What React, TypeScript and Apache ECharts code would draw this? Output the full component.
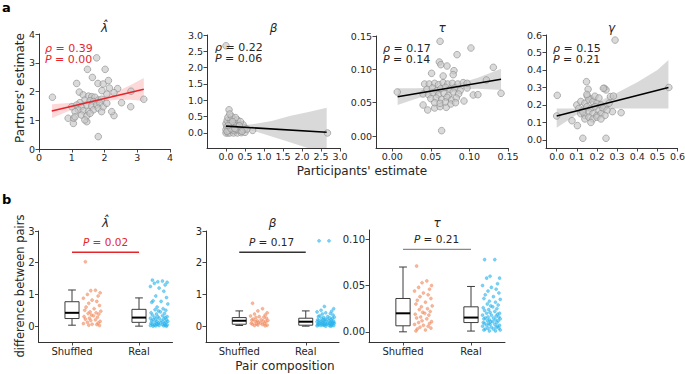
import React, { useEffect, useRef } from 'react';
import * as echarts from 'echarts';

const FONT = 'DejaVu Sans';

// ---------- Panel a data ----------
const aLambdaPts: number[][] = [
  [0.41, 1.8], [1.76, 3.17], [1.48, 2.77], [2.02, 2.77], [1.63, 2.49], [1.15, 2.28], [1.8, 2.28], [1.96, 2.26],
  [2.12, 2.38], [2.15, 2.12], [2.4, 2.1], [2.81, 2.01], [3.2, 1.73], [2.8, 1.47], [2.52, 1.61], [2.29, 1.96],
  [2.07, 1.91], [1.92, 2.03], [2.29, 1.16], [1.23, 1.98], [1.81, 0.43], [1.05, 0.89], [0.89, 1.07], [1.06, 1.07],
  [1.46, 0.95], [1.35, 1.88], [1.51, 1.84], [1.61, 1.82], [1.71, 1.8], [1.4, 1.7], [1.56, 1.68], [1.66, 1.65],
  [1.81, 1.7], [1.91, 1.73], [1.25, 1.61], [1.15, 1.53], [1.3, 1.47], [1.46, 1.53], [1.61, 1.5], [1.76, 1.53],
  [1.86, 1.59], [1.2, 1.36], [1.35, 1.33], [1.51, 1.3], [1.66, 1.36], [1.81, 1.42], [1.91, 1.3], [1.1, 1.3],
  [1.3, 1.18], [1.46, 1.15], [1.56, 1.24], [1.96, 1.47], [2.07, 1.59], [1.0, 1.47], [2.22, 1.3], [1.4, 1.01],
  [1.1, 1.12],
];
const aLambdaLine: number[][] = [[0.39, 1.32], [3.2, 2.08]];
const aLambdaBandX = [0.4, 0.8, 1.2, 1.6, 2.0, 2.4, 2.8, 3.2];
const aLambdaBandHi = [1.56, 1.59, 1.62, 1.71, 1.84, 2.01, 2.23, 2.47];
const aLambdaBandLo = [1.08, 1.27, 1.44, 1.57, 1.66, 1.71, 1.71, 1.67];

const aBetaPts: number[][] = [
  [0.0, 0.0], [0.05, 0.0], [0.1, 0.0], [0.2, 0.0], [0.3, 0.0], [0.4, 0.01], [0.5, 0.02],
  [0.0, 0.1], [0.08, 0.08], [0.15, 0.1], [0.22, 0.07], [0.3, 0.1], [0.38, 0.08], [0.46, 0.1],
  [0.02, 0.2], [0.1, 0.18], [0.18, 0.22], [0.25, 0.2], [0.33, 0.17], [0.42, 0.2], [0.5, 0.15],
  [0.0, 0.28], [0.07, 0.3], [0.14, 0.27], [0.2, 0.32], [0.28, 0.3], [0.36, 0.27], [0.45, 0.25],
  [0.03, 0.38], [0.12, 0.4], [0.2, 0.42], [0.3, 0.4], [0.38, 0.35],
  [0.05, 0.48], [0.15, 0.5], [0.25, 0.47], [0.08, 0.71], [0.7, 0.08], [0.55, 0.12], [0.1, 0.58],
  [0.03, 0.05], [0.13, 0.13], [0.26, 0.12], [0.35, 0.22], [0.06, 0.23], [0.17, 0.35], [0.23, 0.14], [0.42, 0.05],
  [0.0, 2.67], [2.67, 0.0],
];
const aBetaLine: number[][] = [[0.0, 0.21], [2.65, 0.02]];
const aBetaBandX = [0.0, 0.3, 0.7, 1.2, 1.7, 2.2, 2.65];
const aBetaBandHi = [0.25, 0.22, 0.27, 0.37, 0.53, 0.65, 0.77];
const aBetaBandLo = [0.16, 0.15, 0.07, -0.11, -0.29, -0.48, -0.64];

const aTauPts: number[][] = [
  [0.0065, 0.066], [0.062, 0.142], [0.102, 0.132], [0.084, 0.122], [0.061, 0.111], [0.063, 0.107], [0.071, 0.105],
  [0.051, 0.094], [0.066, 0.09], [0.08, 0.098], [0.079, 0.092], [0.131, 0.103], [0.141, 0.064], [0.097, 0.072],
  [0.105, 0.0615], [0.093, 0.0525], [0.111, 0.062], [0.064, 0.008], [0.04, 0.0465], [0.046, 0.039], [0.055, 0.042],
  [0.062, 0.044], [0.07, 0.043], [0.122, 0.084],
  [0.042, 0.078], [0.048, 0.078], [0.055, 0.079], [0.06, 0.077], [0.066, 0.08], [0.072, 0.078], [0.078, 0.079],
  [0.085, 0.078], [0.092, 0.08], [0.097, 0.079], [0.045, 0.07], [0.052, 0.072], [0.058, 0.068], [0.063, 0.071],
  [0.069, 0.073], [0.075, 0.07], [0.081, 0.072], [0.088, 0.068], [0.04, 0.063], [0.047, 0.062], [0.053, 0.065],
  [0.06, 0.062], [0.067, 0.064], [0.073, 0.061], [0.079, 0.066], [0.086, 0.063], [0.05, 0.056], [0.057, 0.057],
  [0.064, 0.055], [0.071, 0.058], [0.077, 0.054], [0.083, 0.057], [0.055, 0.05], [0.062, 0.049], [0.069, 0.051],
  [0.076, 0.048], [0.082, 0.05],
];
const aTauLine: number[][] = [[0.007, 0.059], [0.141, 0.085]];
const aTauBandX = [0.007, 0.03, 0.05, 0.07, 0.09, 0.11, 0.141];
const aTauBandHi = [0.0715, 0.0715, 0.0723, 0.0752, 0.0801, 0.087, 0.101];
const aTauBandLo = [0.0465, 0.0555, 0.0623, 0.0672, 0.0701, 0.071, 0.069];

const aGammaPts: number[][] = [
  [0.29, 0.571], [0.003, 0.255], [0.0, 0.137], [0.557, 0.3], [0.148, 0.333], [0.237, 0.295], [0.245, 0.286],
  [0.267, 0.248], [0.282, 0.251], [0.152, 0.25], [0.171, 0.234], [0.277, 0.162], [0.32, 0.156], [0.076, 0.11],
  [0.103, 0.082], [0.13, 0.0095], [0.245, 0.0095], [0.156, 0.29], [0.232, 0.295],
  [0.1, 0.2], [0.12, 0.22], [0.14, 0.21], [0.16, 0.23], [0.18, 0.22], [0.2, 0.21], [0.22, 0.2], [0.24, 0.19],
  [0.11, 0.18], [0.13, 0.17], [0.15, 0.19], [0.17, 0.18], [0.19, 0.19], [0.21, 0.17], [0.23, 0.18], [0.25, 0.17],
  [0.12, 0.15], [0.14, 0.14], [0.16, 0.16], [0.18, 0.15], [0.2, 0.14], [0.22, 0.15], [0.24, 0.14],
  [0.14, 0.12], [0.16, 0.13], [0.18, 0.12], [0.2, 0.13], [0.22, 0.12], [0.17, 0.1], [0.13, 0.16], [0.26, 0.21],
  [0.19, 0.25], [0.15, 0.26], [0.21, 0.24],
];
const aGammaLine: number[][] = [[0.0, 0.137], [0.555, 0.3]];
const aGammaBandX = [0.0, 0.1, 0.2, 0.3, 0.4, 0.5, 0.555];
const aGammaBandHi = [0.18, 0.18, 0.215, 0.27, 0.33, 0.4, 0.457];
const aGammaBandLo = [0.07, 0.145, 0.175, 0.18, 0.18, 0.18, 0.18];

// ---------- Panel b data ----------
const bCategories = ['Shuffled', 'Real'];
// box stats: [min, Q1, median, Q3, max]
const bLambdaBox = [[0.03, 0.24, 0.42, 0.77, 1.14], [0.0, 0.12, 0.27, 0.53, 0.89]];
const bBetaBox = [[0.02, 0.06, 0.17, 0.27, 0.48], [0.0, 0.03, 0.14, 0.25, 0.48]];
const bTauBox = [[0.0, 0.0065, 0.02, 0.036, 0.07], [0.0008, 0.01, 0.0154, 0.027, 0.049]];

const bLambdaShuffled = [2.03, 1.13, 1.12, 1.05, 1.0, 0.95, 0.88, 0.82, 0.78, 0.72, 0.65, 0.6, 0.55, 0.5, 0.47, 0.45,
  0.42, 0.4, 0.38, 0.35, 0.33, 0.3, 0.28, 0.25, 0.22, 0.2, 0.18, 0.15, 0.12, 0.1, 0.08, 0.06, 0.05, 0.03, 0.02];
const bLambdaReal = [1.45, 1.42, 1.4, 1.38, 1.35, 1.3, 1.25, 1.2, 1.1, 0.95, 0.9, 0.8, 0.78, 0.75, 0.7, 0.6, 0.55,
  0.52, 0.5, 0.48, 0.45, 0.42, 0.4, 0.38, 0.35, 0.33, 0.3, 0.3, 0.28, 0.27, 0.25, 0.25, 0.23, 0.22, 0.2, 0.2, 0.18,
  0.17, 0.15, 0.15, 0.14, 0.12, 0.12, 0.1, 0.1, 0.09, 0.08, 0.07, 0.06, 0.05, 0.05, 0.04, 0.03, 0.03, 0.02, 0.02,
  0.01, 0.01, 0.0, 0.0];
const bBetaShuffled = [0.72, 0.55, 0.48, 0.42, 0.38, 0.35, 0.32, 0.3, 0.28, 0.27, 0.25, 0.22, 0.2, 0.19, 0.18, 0.17,
  0.16, 0.15, 0.14, 0.12, 0.1, 0.09, 0.08, 0.07, 0.06, 0.05, 0.04, 0.03, 0.02, 0.01];
const bBetaReal = [2.69, 2.69, 0.62, 0.55, 0.5, 0.47, 0.45, 0.42, 0.4, 0.38, 0.35, 0.33, 0.3, 0.3, 0.28, 0.27, 0.26,
  0.25, 0.24, 0.22, 0.21, 0.2, 0.2, 0.19, 0.18, 0.17, 0.16, 0.15, 0.15, 0.14, 0.14, 0.13, 0.12, 0.12, 0.11, 0.1, 0.1,
  0.09, 0.09, 0.08, 0.08, 0.07, 0.07, 0.06, 0.06, 0.05, 0.05, 0.04, 0.04, 0.03, 0.03, 0.02, 0.02, 0.01, 0.01, 0.0, 0.0];
const bTauShuffled = [0.071, 0.055, 0.053, 0.05, 0.048, 0.046, 0.044, 0.042, 0.04, 0.038, 0.036, 0.034, 0.032, 0.03,
  0.028, 0.027, 0.025, 0.024, 0.022, 0.021, 0.02, 0.019, 0.018, 0.016, 0.015, 0.014, 0.012, 0.011, 0.01, 0.009,
  0.008, 0.007, 0.006, 0.005, 0.004, 0.003, 0.002, 0.001];
const bTauReal = [0.078, 0.078, 0.06, 0.058, 0.058, 0.052, 0.05, 0.048, 0.046, 0.044, 0.042, 0.04, 0.038, 0.036,
  0.035, 0.033, 0.032, 0.03, 0.029, 0.028, 0.027, 0.026, 0.025, 0.024, 0.023, 0.022, 0.021, 0.02, 0.02, 0.019,
  0.018, 0.018, 0.017, 0.016, 0.016, 0.015, 0.015, 0.014, 0.014, 0.013, 0.013, 0.012, 0.012, 0.011, 0.011, 0.01,
  0.01, 0.009, 0.009, 0.008, 0.008, 0.007, 0.007, 0.006, 0.006, 0.005, 0.005, 0.004, 0.004, 0.003, 0.003, 0.002,
  0.002, 0.001, 0.001];
const bBracketY = [2.33, 2.33, 0.089];
const bPValues = ['0.02', '0.17', '0.21'];
const jitterOffsets = [-0.1, 0.05, -0.02, 0.12, -0.07, 0.09, -0.13, 0.0, 0.07, -0.05, 0.11, -0.09, 0.03, -0.11,
  0.13, -0.03, 0.06, -0.06, 0.1, -0.01, 0.02, -0.12, 0.08, -0.04];

// ---------- ticks ----------
const tLam = [0, 1, 2, 3, 4];
const tBeta = [0, 0.5, 1, 1.5, 2, 2.5, 3];
const tTau = [0, 0.05, 0.1, 0.15];
const tGam = [0, 0.1, 0.2, 0.3, 0.4, 0.5, 0.6];
const tBLam = [0, 1, 2, 3];
const tBTau = [0, 0.05, 0.1];
const tCat = [0, 1];

const RED = '#e4262c';
const ORANGE = '#f08a5e';
const BLUE = '#2bb4ec';
const AX = '#333333';
const TXT = '#262626';

function axis(gi: number, min: number, max: number, ticks: number[], fmt: (v: number) => string, isX: boolean) {
  return {
    type: 'value', gridIndex: gi, min, max, scale: true,
    axisLine: { show: true, onZero: false, lineStyle: { color: AX, width: 1 } },
    axisTick: { show: true, length: 3.5, inside: false, customValues: ticks, lineStyle: { color: AX, width: 0.9 } },
    axisLabel: { show: true, customValues: ticks, formatter: fmt, color: TXT, fontSize: 9.5, fontFamily: FONT, margin: isX ? 3 : 4 },
    splitLine: { show: false },
  };
}

function scatterA(i: number, pts: number[][]) {
  return {
    type: 'scatter', xAxisIndex: i, yAxisIndex: i, data: pts, symbolSize: 6.6, z: 3, silent: true,
    itemStyle: { color: 'rgba(200,200,200,0.85)', borderColor: '#8c8c8c', borderWidth: 0.8 },
  };
}

function lineA(i: number, pts: number[][], color: string) {
  return {
    type: 'line', xAxisIndex: i, yAxisIndex: i, data: pts, symbol: 'none', z: 4, silent: true,
    lineStyle: { color, width: 1.6 },
  };
}

function bandA(i: number, bx: number[], hi: number[], lo: number[], fill: string) {
  return {
    type: 'custom', xAxisIndex: i, yAxisIndex: i, clip: true, silent: true, z: 1,
    data: bx.map((x, k) => [x, hi[k], lo[k]]),
    encode: { x: 0, y: [1, 2] },
    renderItem: (params: any, api: any) => {
      if (params.dataIndex !== 0) return { type: 'group', children: [] };
      const top = bx.map((x, k) => api.coord([x, hi[k]]));
      const bot = bx.map((x, k) => api.coord([x, lo[k]])).reverse();
      return { type: 'polygon', shape: { points: top.concat(bot) }, style: { fill } };
    },
  };
}

function boxB(i: number, stats: number[][]) {
  return {
    type: 'custom', xAxisIndex: i, yAxisIndex: i, silent: true, z: 3,
    data: stats.map((s, k) => [k, ...s]),
    encode: { x: 0, y: [1, 2, 3, 4, 5] },
    renderItem: (params: any, api: any) => {
      const x = api.value(0);
      const v = [1, 2, 3, 4, 5].map((d) => api.value(d));
      const w = api.size([0.21, 0])[0];
      const cap = w * 0.55;
      const pMin = api.coord([x, v[0]]);
      const q1 = api.coord([x, v[1]]);
      const md = api.coord([x, v[2]]);
      const q3 = api.coord([x, v[3]]);
      const pMax = api.coord([x, v[4]]);
      const st = { stroke: '#3c3c3c', lineWidth: 1, fill: null };
      return {
        type: 'group',
        children: [
          { type: 'line', shape: { x1: pMax[0], y1: pMax[1], x2: q3[0], y2: q3[1] }, style: st },
          { type: 'line', shape: { x1: q1[0], y1: q1[1], x2: pMin[0], y2: pMin[1] }, style: st },
          { type: 'line', shape: { x1: pMax[0] - cap / 2, y1: pMax[1], x2: pMax[0] + cap / 2, y2: pMax[1] }, style: st },
          { type: 'line', shape: { x1: pMin[0] - cap / 2, y1: pMin[1], x2: pMin[0] + cap / 2, y2: pMin[1] }, style: st },
          { type: 'rect', shape: { x: q3[0] - w / 2, y: q3[1], width: w, height: q1[1] - q3[1] }, style: { stroke: '#3c3c3c', lineWidth: 1, fill: '#ffffff' } },
          { type: 'line', shape: { x1: md[0] - w / 2, y1: md[1], x2: md[0] + w / 2, y2: md[1] }, style: { stroke: '#000', lineWidth: 2 } },
        ],
      };
    },
  };
}

function jitterB(i: number, cat: number, vals: number[], color: string, border: string) {
  return {
    type: 'scatter', xAxisIndex: i, yAxisIndex: i, silent: true, z: 3, symbolSize: 3,
    data: vals.map((v, k) => [cat + 0.3 + jitterOffsets[k % jitterOffsets.length], v]),
    itemStyle: { color, borderColor: border, borderWidth: 0.5 },
  };
}

function bracketB(i: number, y: number, color: string) {
  return {
    type: 'line', xAxisIndex: i, yAxisIndex: i, symbol: 'none', silent: true, z: 4,
    data: [[0, y], [1, y]], lineStyle: { color, width: 1.3 },
  };
}

const f0 = (v: number) => String(Math.round(v));
const f1 = (v: number) => v.toFixed(1);
const f2 = (v: number) => v.toFixed(2);
const fCat = (v: number) => bCategories[Math.round(v)] ?? '';

function txt(x: number, y: number, text: string, opts: any = {}) {
  return {
    type: 'text', x, y, silent: true, z: 100,
    style: {
      text, fontFamily: FONT, fontSize: opts.size ?? 11, fill: opts.color ?? TXT,
      fontStyle: opts.italic ? 'italic' : 'normal', fontWeight: opts.bold ? 'bold' : 'normal',
      align: opts.align ?? 'center', verticalAlign: opts.valign ?? 'middle', rich: opts.rich,
    },
    rotation: opts.rotation ?? 0,
  };
}

function statText(x: number, y: number, rho: string, p: string, color: string) {
  const rich = {
    i: { fontStyle: 'italic', fontFamily: FONT, fontSize: 11, fill: color },
    n: { fontFamily: FONT, fontSize: 11, fill: color },
  };
  return [
    txt(x, y, `{i|ρ}{n| = ${rho}}`, { align: 'left', color, rich }),
    txt(x, y + 11.5, `{i|P}{n| = ${p}}`, { align: 'left', color, rich }),
  ];
}

function pText(x: number, y: number, p: string, color: string) {
  const rich = {
    i: { fontStyle: 'italic', fontFamily: FONT, fontSize: 10.5, fill: color },
    n: { fontFamily: FONT, fontSize: 10.5, fill: color },
  };
  return txt(x, y, `{i|P}{n| = ${p}}`, { color, rich });
}

export default function App() {
  const ref = useRef<HTMLDivElement>(null);
  useEffect(() => {
    if (!ref.current) return;
    document.body.style.margin = '0';
    const chart = echarts.init(ref.current, undefined, { renderer: 'svg' });
    const grids = [
      { left: 39, top: 34, width: 131, height: 115 },
      { left: 207, top: 35, width: 133, height: 113 },
      { left: 376, top: 36, width: 132, height: 112 },
      { left: 546, top: 35, width: 131.5, height: 113 },
      { left: 38.5, top: 231, width: 134, height: 111 },
      { left: 206, top: 231, width: 133, height: 111 },
      { left: 369, top: 230, width: 136, height: 112 },
    ].map((g) => ({ ...g, containLabel: false, outerBoundsMode: 'none', show: false }));

    const xAxis = [
      axis(0, 0, 4, tLam, f0, true),
      axis(1, -0.5, 3, tBeta, f1, true),
      axis(2, -0.021, 0.15, tTau, f2, true),
      axis(3, -0.053, 0.6, tGam, f1, true),
      axis(4, -0.5, 1.5, tCat, fCat, true),
      axis(5, -0.5, 1.5, tCat, fCat, true),
      axis(6, -0.5, 1.5, tCat, fCat, true),
    ];
    xAxis.slice(4).forEach((a: any) => { a.axisLabel.fontSize = 10; a.axisLabel.margin = 4; });
    const yAxis = [
      axis(0, 0, 4, tLam, f0, false),
      axis(1, -0.46, 3, tBeta, f1, false),
      axis(2, -0.018, 0.15, tTau, f2, false),
      axis(3, -0.046, 0.6, tGam, f1, false),
      axis(4, -0.5, 3, tBLam, f0, false),
      axis(5, -0.5, 3, tBLam, f0, false),
      axis(6, -0.011, 0.11, tBTau, f2, false),
    ];
    yAxis.slice(4).forEach((a: any) => { a.axisLabel.fontSize = 10; });

    const series: any[] = [
      bandA(0, aLambdaBandX, aLambdaBandHi, aLambdaBandLo, 'rgba(240,60,60,0.2)'),
      scatterA(0, aLambdaPts),
      lineA(0, aLambdaLine, RED),
      bandA(1, aBetaBandX, aBetaBandHi, aBetaBandLo, 'rgba(0,0,0,0.15)'),
      scatterA(1, aBetaPts),
      lineA(1, aBetaLine, '#000'),
      bandA(2, aTauBandX, aTauBandHi, aTauBandLo, 'rgba(0,0,0,0.15)'),
      scatterA(2, aTauPts),
      lineA(2, aTauLine, '#000'),
      bandA(3, aGammaBandX, aGammaBandHi, aGammaBandLo, 'rgba(0,0,0,0.15)'),
      scatterA(3, aGammaPts),
      lineA(3, aGammaLine, '#000'),

      boxB(4, bLambdaBox),
      jitterB(4, 0, bLambdaShuffled, 'rgba(240,138,94,0.75)', ORANGE),
      jitterB(4, 1, bLambdaReal, 'rgba(43,180,236,0.75)', BLUE),
      bracketB(4, bBracketY[0], RED),
      boxB(5, bBetaBox),
      jitterB(5, 0, bBetaShuffled, 'rgba(240,138,94,0.75)', ORANGE),
      jitterB(5, 1, bBetaReal, 'rgba(43,180,236,0.75)', BLUE),
      bracketB(5, bBracketY[1], '#333'),
      boxB(6, bTauBox),
      jitterB(6, 0, bTauShuffled, 'rgba(240,138,94,0.75)', ORANGE),
      jitterB(6, 1, bTauReal, 'rgba(43,180,236,0.75)', BLUE),
      bracketB(6, bBracketY[2], '#8a8a8a'),
    ];

    const graphic: any[] = [
      txt(2, 1, 'a', { size: 13, bold: true, align: 'left', valign: 'top', color: '#000' }),
      txt(2, 193, 'b', { size: 13, bold: true, align: 'left', valign: 'top', color: '#000' }),
      txt(104.5, 28, 'λ̂', { size: 12, italic: true }),
      txt(273.5, 28, 'β', { size: 12, italic: true }),
      txt(442, 28, 'τ', { size: 12, italic: true }),
      txt(611.5, 28, 'γ', { size: 12, italic: true }),
      ...statText(45, 48, '0.39', '0.00', RED),
      ...statText(215, 47, '0.22', '0.06', TXT),
      ...statText(383, 48, '0.17', '0.14', TXT),
      ...statText(553, 48, '0.15', '0.21', TXT),
      txt(20, 88, "Partners' estimate", { size: 12, rotation: Math.PI / 2 }),
      txt(362, 171, "Participants' estimate", { size: 12 }),
      txt(105.5, 223, 'λ̂', { size: 12, italic: true }),
      txt(272.5, 223, 'β', { size: 12, italic: true }),
      txt(437, 223, 'τ', { size: 12, italic: true }),
      pText(105.5, 242, bPValues[0], RED),
      pText(271.5, 242, bPValues[1], TXT),
      pText(436.5, 239, bPValues[2], TXT),
      txt(20, 286, 'difference between pairs', { size: 11.5, rotation: Math.PI / 2 }),
      txt(285, 366, 'Pair composition', { size: 12 }),
    ];

    chart.setOption({
      animation: false,
      backgroundColor: '#ffffff',
      textStyle: { fontFamily: FONT },
      tooltip: { show: false },
      grid: grids,
      xAxis,
      yAxis,
      series,
      graphic,
    });
    return () => chart.dispose();
  }, []);
  return <div ref={ref} style={{ width: 685, height: 374 }} />;
}
